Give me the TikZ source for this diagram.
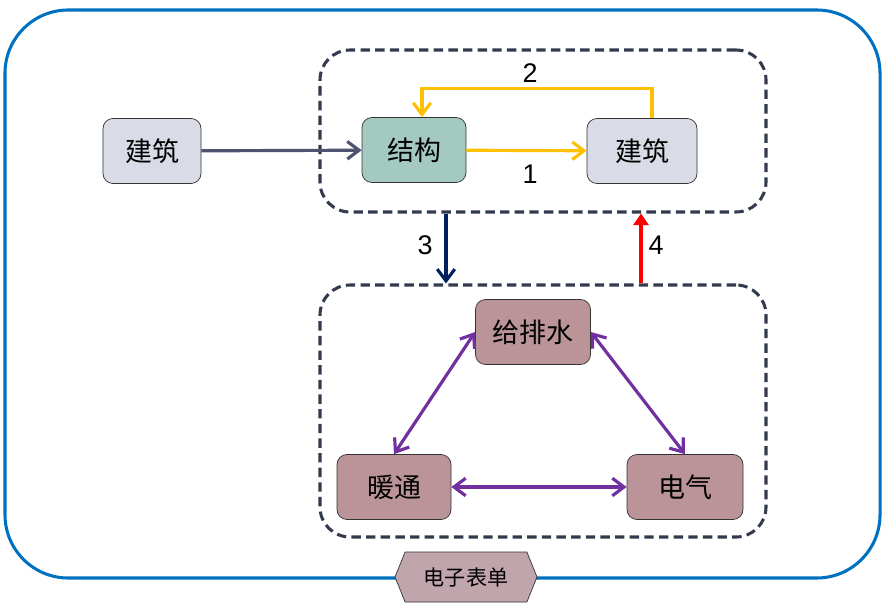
\documentclass[tikz,border=0pt]{standalone}
\usepackage{fontspec}
\setmainfont{Liberation Sans}
\newfontfamily\cjk{Noto Sans CJK SC}
\usetikzlibrary{arrows.meta,shapes.symbols}

\definecolor{outblue}{HTML}{0070C0}
\definecolor{grpline}{HTML}{333A4E}
\definecolor{grayarr}{HTML}{4D5470}
\definecolor{yellarr}{HTML}{FFC000}
\definecolor{navyarr}{HTML}{002060}
\definecolor{purparr}{HTML}{7030A0}
\definecolor{jzfill}{HTML}{D9DBE6}
\definecolor{jgfill}{HTML}{A3C9C0}
\definecolor{mepfill}{HTML}{BA9499}
\definecolor{hexfill}{HTML}{C0A6AC}

\begin{document}
\begin{tikzpicture}[x=0.03cm,y=-0.03cm]
\tikzstyle{box} = [draw=black!80,line width=0.6pt,rounded corners=0.3cm,font=\cjk\fontsize{23}{27}\selectfont,minimum height=1.95cm]
\tikzstyle{grp} = [draw=grpline,line width=2.6pt,dash pattern=on 8pt off 4.5pt,rounded corners=0.9cm]
\tikzstyle{lbl} = [font=\fontsize{23}{27}\selectfont]
\tikzstyle{arr} = [line width=2.7pt,-{Straight Barb[length=10pt,width=15pt]}]
\tikzstyle{dbl} = [line width=2.7pt,{Straight Barb[length=10pt,width=15pt]}-{Straight Barb[length=10pt,width=15pt]}]
\useasboundingbox (0,0) rectangle (891,613);

%%%%%% Outer frame
\node[draw=outblue,line width=2.6pt,rounded corners=1.9cm,minimum width=26.25cm,minimum height=17.04cm] (frame) at (442.5,294) {};
\node[draw=black!80,line width=0.6pt,fill=hexfill,signal,signal to=west and east,signal pointer angle=136,minimum width=4.26cm,minimum height=1.5cm,inner sep=0pt,font=\cjk\fontsize{18}{22}\selectfont] (form) at (466,577) {电子表单};

%%%%%% Groups
\node[grp,minimum width=13.38cm,minimum height=4.86cm] (up) at (543,131) {};
\node[grp,minimum width=13.38cm,minimum height=7.56cm] (dn) at (543,411) {};

%%%%%% Nodes
\node[box,fill=jzfill,minimum width=2.94cm] (jz1) at (152,151) {建筑};
\node[box,fill=jgfill,minimum width=3.12cm] (jg) at (414,150) {结构};
\node[box,fill=jzfill,minimum width=3.3cm] (jz2) at (642,151) {建筑};
\node[box,fill=mepfill,minimum width=3.45cm] (gps) at (533,332) {给排水};
\node[box,fill=mepfill,minimum width=3.42cm] (nt) at (394,487) {暖通};
\node[box,fill=mepfill,minimum width=3.48cm] (dq) at (685,487) {电气};

%%%%%% Arrows
\draw[arr,grayarr] (jz1) -- (jg);
% 1
\draw[arr,yellarr] (jg) -- (jz2);
\node[lbl] (n1) at (530,174) {1};
% 2
\draw[arr,yellarr] ([xshift=0.3cm]jz2.north) -- ++(0,0.9cm) -| ([xshift=0.24cm]jg.north);
\node[lbl] (n2) at (530,73) {2};
% 3
\draw[arr,navyarr] ([xshift=-2.91cm]up.south) -- ([xshift=-2.91cm]dn.north);
\node[lbl] (n3) at (425,245) {3};
% 4
\draw[line width=2.7pt,red,-{Triangle[length=10pt,width=13pt]}] ([xshift=2.94cm]dn.north) -- ([xshift=2.94cm]up.south);
\node[lbl] (n4) at (656,245) {4};

%%%%%% MEP
\draw[dbl,purparr] (gps.west) -- (nt.north);
\draw[dbl,purparr] (gps.east) -- (dq.north);
\draw[dbl,purparr] (nt) -- (dq);
\end{tikzpicture}
\end{document}
